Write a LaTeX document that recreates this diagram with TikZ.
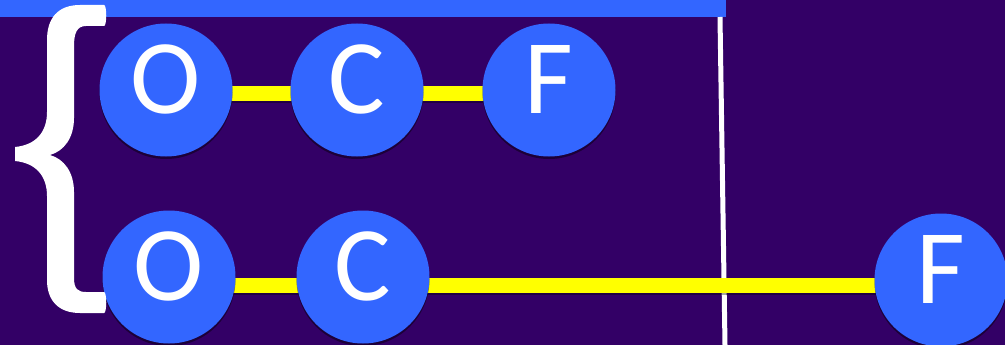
\documentclass[tikz,border=0pt]{standalone}
\usepackage{fontspec}
\setmainfont{Carlito}
\usetikzlibrary{shadows}
\definecolor{bg}{HTML}{330066}
\definecolor{nodeblue}{HTML}{3366FF}
\definecolor{bar}{HTML}{FFFF00}
\pgfdeclarelayer{bottom}
\pgfdeclarelayer{bars}
\pgfsetlayers{bottom,bars,main}
\begin{document}
\begin{tikzpicture}[x=1pt,y=-1pt,
  ball/.style={circle,fill=nodeblue,minimum size=133pt,inner sep=0pt,text=white,
    font=\fontsize{106}{106}\selectfont,text height=68pt,text depth=21pt,
    drop shadow={shadow xshift=0pt,shadow yshift=-2.5pt,opacity=0.45,fill=black}},
  linkshadow/.style={draw=black,opacity=0.35,line width=17pt},
  link/.style={draw=bar,line width=15pt},
  rule/.style={draw=white,line width=5pt}]
\useasboundingbox (0,0) rectangle (1005,345);
\clip (0,0) rectangle (1005,345);
% nodes
\node[ball] (o1) at (166,90) {O};
\node[ball] (c1) at (357,90) {C};
\node[ball] (f1) at (549,90) {F};
\node[ball] (o2) at (169,277) {O};
\node[ball] (c2) at (363,277) {C};
\node[ball] (f2) at (941,280) {F};
\coordinate (rtop) at (720,17);
\coordinate (rbot) at (725,345);
\begin{pgfonlayer}{bottom}
  \fill[bg] (0,0) rectangle (1005,345);
  \fill[nodeblue] (0,0) rectangle (726,17);
\end{pgfonlayer}
\begin{pgfonlayer}{bars}
  \draw[rule] (rtop) -- (rbot);
  \draw[linkshadow] ([yshift=-5pt]o1.center) -- ([yshift=-5pt]c1.center);
  \draw[linkshadow] ([yshift=-5pt]c1.center) -- ([yshift=-5pt]f1.center);
  \draw[linkshadow] ([yshift=-9pt]o2.center) -- ([yshift=-9pt]c2.center);
  \draw[linkshadow] ([yshift=-9pt]c2.center) -- ([yshift=-9pt]c2.center -| f2.center);
  \draw[link] ([yshift=-4pt]o1.center) -- ([yshift=-4pt]c1.center);
  \draw[link] ([yshift=-4pt]c1.center) -- ([yshift=-4pt]f1.center);
  \draw[link] ([yshift=-8pt]o2.center) -- ([yshift=-8pt]c2.center);
  \draw[link] ([yshift=-8pt]c2.center) -- ([yshift=-8pt]c2.center -| f2.center);
\end{pgfonlayer}
% brace
\fill[white] (104,5) .. controls (107,5) and (107,26) .. (104,26)
  -- (86,26) .. controls (77,26) and (74,33) .. (74,46)
  -- (74,118) .. controls (74,138) and (64,151) .. (50,155)
  .. controls (64,159) and (74,172) .. (74,192)
  -- (74,278) .. controls (74,289) and (78,292) .. (86,292)
  -- (104,292) .. controls (107,292) and (107,313) .. (104,313)
  -- (80,313) .. controls (58,313) and (47,300) .. (47,280)
  -- (47,196) .. controls (47,176) and (36,163) .. (15,161)
  -- (15,147) .. controls (36,145) and (47,132) .. (47,112)
  -- (47,40) .. controls (47,18) and (58,5) .. (80,5) -- cycle;
\end{tikzpicture}
\end{document}
